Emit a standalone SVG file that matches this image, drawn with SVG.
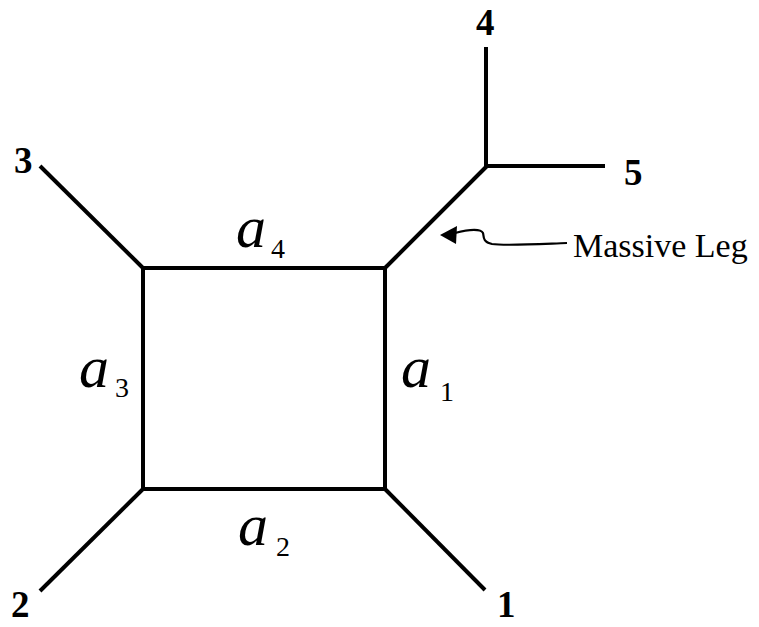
<svg xmlns="http://www.w3.org/2000/svg" width="759" height="627" viewBox="0 0 759 627">
<style>
.ln{stroke:#000;stroke-width:4;fill:none;stroke-linecap:butt}
.num{font-family:"Liberation Serif",serif;font-weight:bold;font-size:37px;fill:#000}
.var{font-family:"Liberation Serif",serif;font-style:italic;font-size:60px;fill:#000}
.sub{font-family:"Liberation Serif",serif;font-size:28px;fill:#000}
.lbl{font-family:"Liberation Serif",serif;font-size:34px;fill:#000}
</style>
<rect width="759" height="627" fill="#fff"/>
<g id="connectors">
<path class="ln" d="M143,268 H385 V489 H143 Z" stroke-linejoin="miter"/>
<line class="ln" x1="143" y1="268" x2="40" y2="166"/>
<line class="ln" x1="143" y1="489" x2="40" y2="591"/>
<line class="ln" x1="385" y1="489" x2="485" y2="590"/>
<line class="ln" x1="385" y1="268" x2="487" y2="166"/>
<line class="ln" x1="486" y1="168" x2="486" y2="47"/>
<line class="ln" x1="484" y1="166" x2="605" y2="166"/>
<path d="M567,243 C540,244 505,246 492,244 C482,242 484,236 483,233 C481,229 470,229 455,233" stroke="#000" stroke-width="2.2" fill="none"/>
<path d="M440,235 L457,226 L456,244 Z" fill="#000"/>
</g>
<g id="n1"><text class="num" x="497" y="617">1</text></g>
<g id="n2"><text class="num" x="11" y="617">2</text></g>
<g id="n3"><text class="num" x="14" y="173">3</text></g>
<g id="n4"><text class="num" x="476" y="35">4</text></g>
<g id="n5"><text class="num" x="624" y="185">5</text></g>
<g id="a4"><text class="var" x="236" y="247">a</text><text class="sub" x="271" y="258">4</text></g>
<g id="a3"><text class="var" x="79" y="387">a</text><text class="sub" x="115" y="397">3</text></g>
<g id="a1"><text class="var" x="401" y="387">a</text><text class="sub" x="440" y="401">1</text></g>
<g id="a2"><text class="var" x="238" y="545">a</text><text class="sub" x="276" y="556">2</text></g>
<g id="massive"><text class="lbl" x="573" y="257">Massive Leg</text></g>
</svg>
